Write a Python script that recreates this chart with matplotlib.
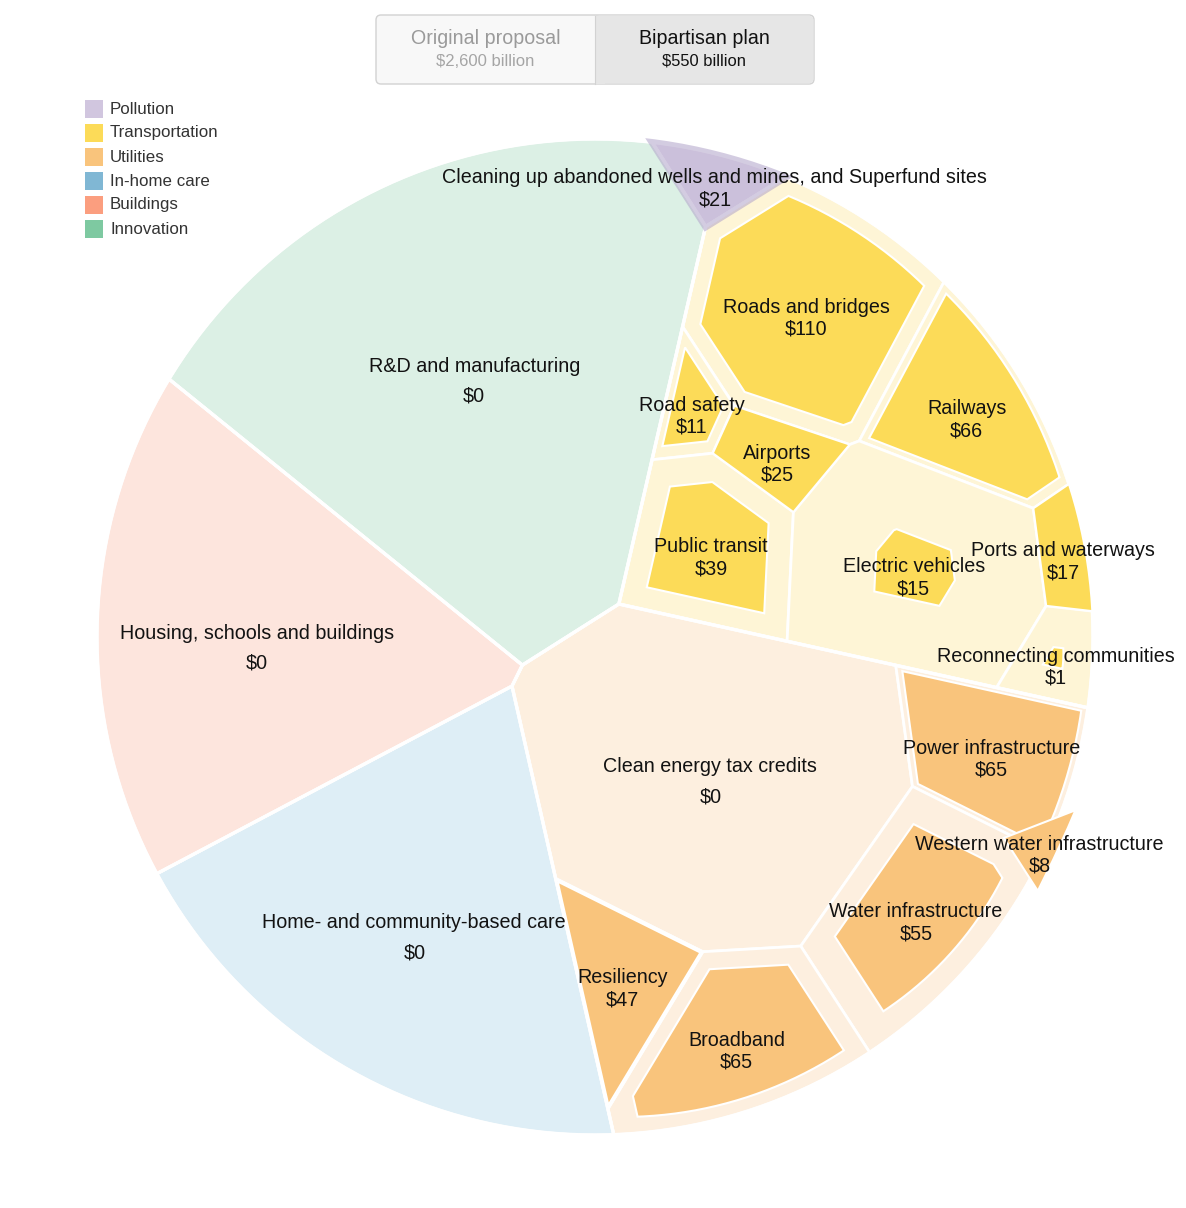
import numpy as np
import matplotlib.pyplot as plt
from matplotlib.patches import Polygon, FancyBboxPatch, Rectangle

plt.rcParams['font.family'] = ['Liberation Sans', 'DejaVu Sans']

# --- data (billions of dollars) ---
group_names = ['Pollution', 'Transportation', 'Utilities', 'In-home care', 'Buildings', 'Innovation']
group_colors = ['#d1c6df', '#fcdb58', '#f9c47c', '#80b7d4', '#fb9e7f', '#7ec9a1']
group_light = ['#ebe1f2', '#fef5d6', '#fdefdf', '#deeef6', '#fde5dd', '#dcf0e5']
# fill used for the bipartisan polygons (pollution one is see-through)
inner_colors = ['#b7aacd', '#fcdb58', '#f9c47c', '#80b7d4', '#fb9e7f', '#7ec9a1']
inner_alpha = [0.6, 1, 1, 1, 1, 1]

leaf_names = [
    'Cleaning up abandoned wells and mines, and Superfund sites',
    'Roads and bridges', 'Railways', 'Road safety', 'Airports', 'Public transit',
    'Electric vehicles', 'Ports and waterways', 'Reconnecting communities',
    'Clean energy tax credits', 'Power infrastructure', 'Western water infrastructure',
    'Water infrastructure', 'Broadband', 'Resiliency',
    'Home- and community-based care', 'Housing, schools and buildings', 'R&D and manufacturing',
]
leaf_group = ['Pollution'] + ['Transportation'] * 8 + ['Utilities'] * 6 + \
    ['In-home care', 'Buildings', 'Innovation']
original = [17, 150, 80, 20, 25, 80, 155, 17, 22, 340, 75, 1.1, 111, 100, 50, 385, 378, 580]
bipartisan = [21, 110, 66, 11, 25, 39, 15, 17, 1, 0, 65, 8, 55, 65, 47, 0, 0, 0]

# --- layout (pixels) ---
W, H = 1186, 1208
cx, cy, R = 595, 637, 498
group_seeds = {
    'Pollution': (664, 284), 'Transportation': (798, 500), 'Utilities': (721, 848),
    'In-home care': (430, 914), 'Buildings': (280, 630), 'Innovation': (450, 420),
}
leaf_seeds = {
    'Roads and bridges': (820, 320), 'Railways': (970, 400), 'Road safety': (690, 405),
    'Airports': (778, 445), 'Public transit': (705, 545), 'Electric vehicles': (910, 555),
    'Ports and waterways': (1062, 535), 'Reconnecting communities': (1050, 640),
    'Clean energy tax credits': (720, 790), 'Power infrastructure': (1010, 750),
    'Western water infrastructure': (1048, 848), 'Water infrastructure': (920, 930),
    'Broadband': (735, 1050), 'Resiliency': (624, 983),
}


def clip(poly, a, b):
    if len(poly) == 0:
        return poly
    d = poly @ a - b
    inside = d <= 0
    if inside.all():
        return poly
    if not inside.any():
        return np.zeros((0, 2))
    out = []
    n = len(poly)
    for k in range(n):
        p, q = poly[k], poly[(k + 1) % n]
        dp, dq = d[k], d[(k + 1) % n]
        if dp <= 0:
            out.append(p)
        if (dp <= 0) != (dq <= 0):
            t = dp / (dp - dq)
            out.append(p + t * (q - p))
    return np.array(out)


def area(poly):
    if len(poly) < 3:
        return 0.0
    x, y = poly[:, 0], poly[:, 1]
    return 0.5 * abs(np.dot(x, np.roll(y, -1)) - np.dot(np.roll(x, -1), y))


def centroid(poly):
    x, y = poly[:, 0], poly[:, 1]
    x1, y1 = np.roll(x, -1), np.roll(y, -1)
    c = x * y1 - x1 * y
    a = c.sum() / 2
    return np.array([((x + x1) * c).sum() / (6 * a), ((y + y1) * c).sum() / (6 * a)])


def power_cells(sites, w, boundary):
    cells = []
    for i in range(len(sites)):
        poly = boundary
        for j in range(len(sites)):
            if i == j:
                continue
            a = 2 * (sites[j] - sites[i])
            b = sites[j] @ sites[j] - sites[i] @ sites[i] - w[j] + w[i]
            poly = clip(poly, a, b)
            if len(poly) == 0:
                break
        cells.append(poly)
    return cells


def voronoi_treemap(sites, values, boundary, iters=300):
    sites = np.asarray(sites, float)
    values = np.asarray(values, float)
    target = area(boundary) * values / values.sum()
    w = np.zeros(len(sites))
    for _ in range(iters):
        cells = power_cells(sites, w, boundary)
        cur = np.array([area(c) for c in cells])
        w += 0.9 * (target - cur) / np.pi
    return power_cells(sites, w, boundary)


t = np.linspace(0, 2 * np.pi, 240, endpoint=False)
circle = np.column_stack([cx + R * np.cos(t), cy + R * np.sin(t)])

leaf_group = np.array(leaf_group)
original = np.array(original, float)
bipartisan = np.array(bipartisan, float)

group_totals = [original[leaf_group == g].sum() for g in group_names]
gcells = voronoi_treemap([group_seeds[g] for g in group_names], group_totals, circle)

leaf_cells = [None] * len(leaf_names)
for g, gc in zip(group_names, gcells):
    idx = np.where(leaf_group == g)[0]
    if len(idx) == 1:
        leaf_cells[idx[0]] = gc
        continue
    cells = voronoi_treemap([leaf_seeds[leaf_names[i]] for i in idx], original[idx], gc)
    for i, c in zip(idx, cells):
        leaf_cells[i] = c

fig = plt.figure(figsize=(W / 100, H / 100), dpi=100)
ax = fig.add_axes([0, 0, 1, 1])
ax.set_xlim(0, W)
ax.set_ylim(H, 0)
ax.axis('off')

gidx = {g: k for k, g in enumerate(group_names)}

# outer (original proposal) cells
for i, c in enumerate(leaf_cells):
    k = gidx[leaf_group[i]]
    ax.add_patch(Polygon(c, closed=True, fc=group_light[k], ec='white', lw=2, joinstyle='miter'))
for gc in gcells:
    ax.add_patch(Polygon(gc, closed=True, fill=False, ec='white', lw=2.4, joinstyle='miter'))

# inner (bipartisan) cells
for i, c in enumerate(leaf_cells):
    if bipartisan[i] <= 0:
        continue
    k = gidx[leaf_group[i]]
    s = np.sqrt(bipartisan[i] / original[i])
    ctr = centroid(c)
    inner = ctr + (c - ctr) * s
    ax.add_patch(Polygon(inner, closed=True, fc=inner_colors[k], alpha=inner_alpha[k],
                         ec='none', zorder=3))
    if inner_alpha[k] == 1:
        ax.add_patch(Polygon(inner, closed=True, fill=False, ec='white', lw=1.5,
                             joinstyle='miter', zorder=3))

# labels
for i, c in enumerate(leaf_cells):
    x, y = centroid(c)
    y += 9
    off = 15 if bipartisan[i] == 0 else 11
    ax.text(x, y - off, leaf_names[i], ha='center', va='center', fontsize=14.2,
            color='#121212', zorder=5)
    ax.text(x, y + off, f'${bipartisan[i]:.0f}', ha='center', va='center', fontsize=14.2,
            color='#121212', zorder=5)

# legend
for k, g in enumerate(group_names):
    y = 109 + 24 * k
    ax.add_patch(Rectangle((85, y - 9), 18, 18, fc=group_colors[k], ec='none'))
    ax.text(110, y, g, ha='left', va='center', fontsize=12.2, color='#333333')

# toggle buttons
ax.add_patch(FancyBboxPatch((376, 15), 438, 69, boxstyle='round,pad=0,rounding_size=5',
                            fc='#f8f8f8', ec='#d2d2d2', lw=1))
ax.add_patch(FancyBboxPatch((595, 15.5), 218.5, 68, boxstyle='round,pad=0,rounding_size=5',
                            fc='#e6e6e6', ec='none'))
ax.add_patch(Rectangle((595, 15.5), 10, 68, fc='#e6e6e6', ec='none'))
ax.plot([595, 595], [15.5, 83.5], color='#d2d2d2', lw=0.8)
ax.text(485.5, 39, 'Original proposal', ha='center', va='center', fontsize=14.1, color='#9a9a9a')
ax.text(485.5, 61, '$2,600 billion', ha='center', va='center', fontsize=12, color='#a5a5a5')
ax.text(704.5, 39, 'Bipartisan plan', ha='center', va='center', fontsize=14.1, color='#111111')
ax.text(704.5, 61, '$550 billion', ha='center', va='center', fontsize=11.9, color='#111111')

fig.savefig('out.png', dpi=100)
